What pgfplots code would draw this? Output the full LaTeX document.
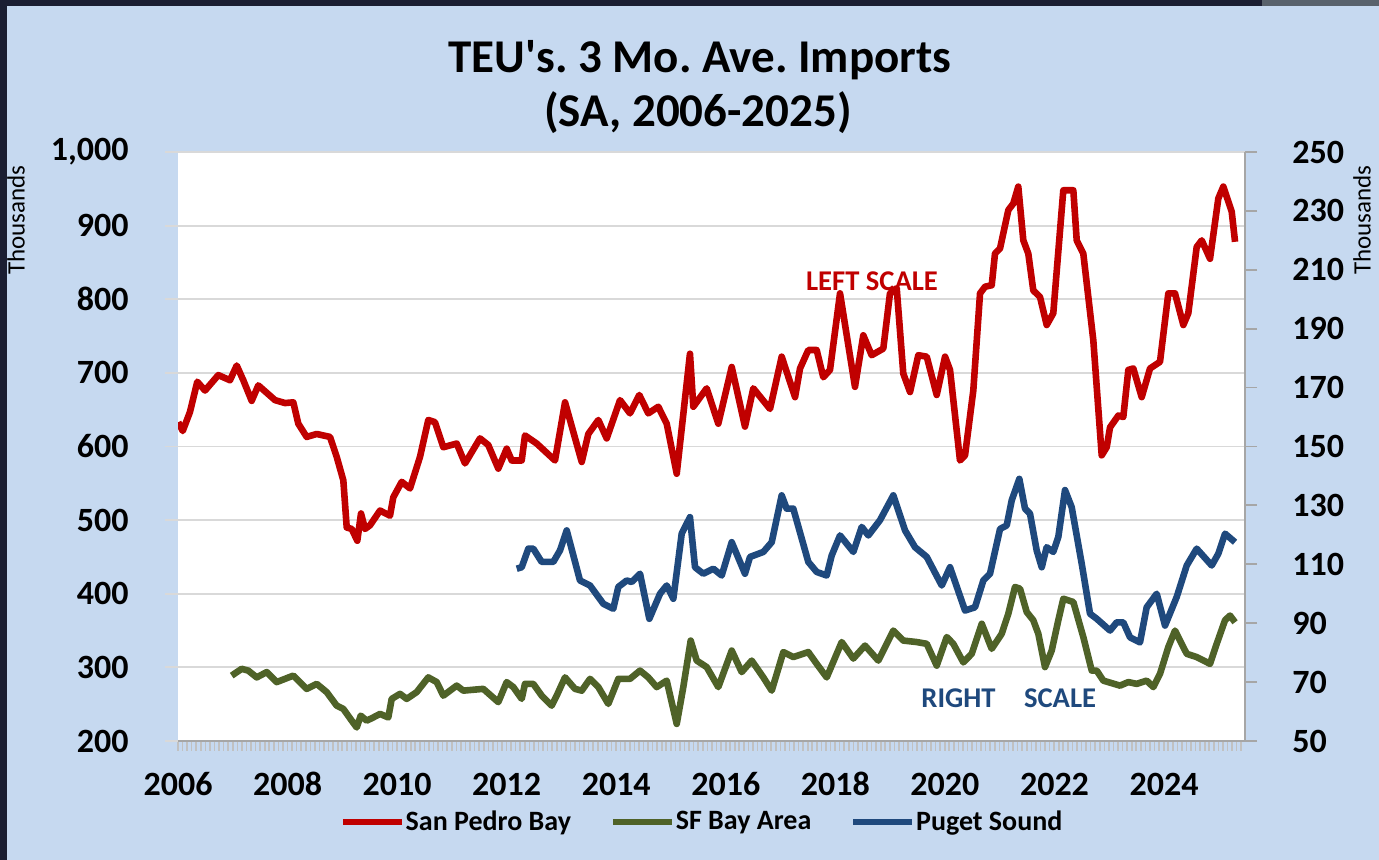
\documentclass[border=0pt]{standalone}
\usepackage{pgfplots}
\pgfplotsset{compat=1.18}
\usepackage{fontspec}
\setmainfont{Carlito}
\frenchspacing
\definecolor{bgblue}{HTML}{C6D9F0}
\definecolor{darkframe}{HTML}{1B1E32}
\definecolor{spred}{HTML}{C00000}
\definecolor{sfgreen}{HTML}{4F6228}
\definecolor{psblue}{HTML}{1F497D}
\definecolor{gridgray}{HTML}{D9D9D9}
\definecolor{axisgray}{HTML}{A6A6A6}
\begin{document}
\begin{tikzpicture}
% background
\fill[darkframe] (0pt,0pt) rectangle (689.5pt,430pt);
\fill[bgblue] (3.5pt,0pt) rectangle (689.5pt,427pt);
\fill[black!55!bgblue] (631pt,427pt) rectangle (689.5pt,430pt);
% title
\node[font=\fontsize{23.5}{28}\selectfont\bfseries] at (350pt,400pt) {TEU\textquotesingle s. 3 Mo. Ave. Imports};
\node[font=\fontsize{23.5}{28}\selectfont\bfseries] at (349pt,373.5pt) {(SA, 2006-2025)};
% Thousands labels
\node[rotate=90, font=\fontsize{12.5}{14}\selectfont] at (8pt,320pt) {Thousands};
\node[rotate=90, font=\fontsize{12.5}{14}\selectfont] at (681pt,320pt) {Thousands};

\begin{axis}[
  at={(89pt,59.5pt)}, anchor=south west,
  scale only axis, width=533.5pt, height=294.5pt,
  xmin=2006, xmax=2025.478, ymin=200, ymax=1000,
  axis background/.style={fill=white},
  axis x line*=bottom, axis y line*=left,
  x axis line style={draw=axisgray, line width=1pt},
  y axis line style={draw=none},
  tick align=outside,
  xtick={2006,2008,...,2024},
  minor xtick={2006,2006.08333,...,2025.45},
  ytick={200,300,...,1000},
  ymajorgrids,
  grid style={draw=gridgray, line width=0.9pt},
  major tick length=6.5pt, minor tick length=5pt,
  xtick style={draw=axisgray!70, line width=0.8pt, /pgfplots/major tick length=5pt},
  minor x tick style={draw=axisgray!70, line width=0.8pt},
  ytick style={draw=gridgray, line width=0.9pt},
  /pgf/number format/assume math mode=true,
  tick label style={font=\fontsize{17}{20}\selectfont\bfseries},
  x tick label style={/pgf/number format/1000 sep={}, anchor=center, yshift=-15pt},
  y tick label style={/pgf/number format/1000 sep={,}, inner sep=0pt, xshift=-18pt},
]
\addplot[color=spred, line width=3.3pt, line join=round] coordinates {
(2006.005,633)(2006.086,621)(2006.219,647)(2006.352,688)(2006.493,676)(2006.736,697)(2006.949,690)(2007.072,710)(2007.192,690)(2007.345,662)(2007.466,683)(2007.771,663)(2007.953,659)(2008.105,660)(2008.196,631)(2008.349,613)(2008.532,617)(2008.775,613)(2008.897,586)(2009.018,554)(2009.080,490)(2009.171,488)(2009.273,472)(2009.341,509)(2009.414,488)(2009.505,493)(2009.688,513)(2009.870,506)(2009.930,531)(2010.084,552)(2010.235,543)(2010.418,586)(2010.569,636)(2010.691,633)(2010.843,599)(2011.088,604)(2011.239,577)(2011.513,611)(2011.664,602)(2011.847,570)(2012.000,597)(2012.092,581)(2012.274,581)(2012.334,615)(2012.548,604)(2012.882,581)(2013.065,660)(2013.370,579)(2013.490,617)(2013.673,636)(2013.826,611)(2014.069,663)(2014.251,645)(2014.421,670)(2014.585,645)(2014.768,654)(2014.921,631)(2015.104,563)(2015.346,726)(2015.407,654)(2015.651,679)(2015.863,631)(2016.108,708)(2016.350,627)(2016.502,679)(2016.807,651)(2017.020,722)(2017.264,667)(2017.355,706)(2017.506,731)(2017.659,731)(2017.780,694)(2017.902,704)(2018.085,808)(2018.358,681)(2018.510,751)(2018.663,724)(2018.875,733)(2018.997,808)(2019.120,815)(2019.240,699)(2019.363,674)(2019.514,724)(2019.668,722)(2019.850,670)(2020.002,722)(2020.093,704)(2020.275,581)(2020.367,588)(2020.518,676)(2020.641,808)(2020.732,817)(2020.854,819)(2020.914,862)(2021.006,869)(2021.157,921)(2021.248,930)(2021.339,953)(2021.431,880)(2021.522,862)(2021.613,812)(2021.736,803)(2021.858,765)(2021.978,781)(2022.161,948)(2022.344,948)(2022.406,880)(2022.526,862)(2022.709,744)(2022.862,588)(2022.953,599)(2023.014,626)(2023.165,642)(2023.256,640)(2023.348,704)(2023.439,706)(2023.592,667)(2023.744,706)(2023.926,715)(2024.078,808)(2024.200,808)(2024.352,765)(2024.443,781)(2024.596,871)(2024.688,880)(2024.839,855)(2024.991,937)(2025.082,953)(2025.235,919)(2025.296,878)
};
\node[text=spred, font=\fontsize{14.3}{16}\selectfont\bfseries] at (axis cs:2018.669,825) {LEFT SCALE};
\end{axis}

\begin{axis}[
  at={(89pt,59.5pt)}, anchor=south west,
  scale only axis, width=533.5pt, height=294.5pt,
  xmin=2006, xmax=2025.478, ymin=50, ymax=250,
  axis x line=none, axis y line*=right,
  y axis line style={draw=axisgray, line width=1pt},
  tick align=outside,
  ytick={50,70,...,250},
  major tick length=6pt,
  ytick style={draw=axisgray, line width=0.9pt},
  /pgf/number format/assume math mode=true,
  tick label style={font=\fontsize{17}{20}\selectfont\bfseries},
  y tick label style={inner sep=0pt, xshift=17.5pt},
  legend columns=3,
  legend style={at={(0.151,-0.1375)}, anchor=west, draw=none, fill=none, inner sep=0pt,
    font=\fontsize{14}{16}\selectfont\bfseries, column sep=0pt,
    nodes={inner sep=0.3pt},
    /tikz/every even column/.append style={column sep=19pt}},
  legend image code/.code={\draw[#1, line width=3.3pt] (0pt,0pt) -- (29.5pt,0pt);},
]
\addlegendimage{color=spred}
\addlegendentry{San Pedro Bay}
\addplot[color=sfgreen, line width=3.3pt, line join=round] coordinates {
(2006.980,72.2)(2007.162,74.5)(2007.283,73.9)(2007.437,71.6)(2007.619,73.4)(2007.802,70)(2008.105,72.2)(2008.349,67.7)(2008.532,69.4)(2008.714,66.6)(2008.897,62)(2009.018,60.9)(2009.171,56.9)(2009.262,54.6)(2009.335,58.6)(2009.445,56.9)(2009.565,58)(2009.688,59.2)(2009.839,58)(2009.901,64.3)(2010.053,66)(2010.175,64.3)(2010.357,66.6)(2010.569,71.6)(2010.723,70)(2010.843,65.4)(2011.088,68.8)(2011.208,67.1)(2011.573,67.7)(2011.847,63.2)(2012.000,70)(2012.121,68.3)(2012.274,64.3)(2012.334,69.4)(2012.486,69.4)(2012.639,65.4)(2012.822,62)(2012.913,65.4)(2013.065,71.6)(2013.247,67.7)(2013.370,67.1)(2013.521,71.1)(2013.673,68.3)(2013.855,62.6)(2014.038,71.1)(2014.251,71.1)(2014.434,73.9)(2014.585,71.6)(2014.739,68.3)(2014.921,70.5)(2015.104,55.8)(2015.224,68.3)(2015.359,84.1)(2015.469,77.3)(2015.651,75.1)(2015.863,68.3)(2016.108,80.7)(2016.290,73.4)(2016.473,77.3)(2016.685,71.6)(2016.838,67.1)(2017.050,80.2)(2017.232,78.5)(2017.506,80.2)(2017.659,76.2)(2017.842,71.6)(2018.116,83.6)(2018.328,78)(2018.541,82.4)(2018.784,77.3)(2019.058,87.5)(2019.240,84.1)(2019.485,83.6)(2019.668,83)(2019.850,75.6)(2020.033,85.3)(2020.153,83)(2020.336,76.7)(2020.489,79.6)(2020.672,89.8)(2020.854,81.3)(2021.036,86.4)(2021.157,93.2)(2021.279,102.3)(2021.371,101.7)(2021.493,93.8)(2021.613,91)(2021.705,86.4)(2021.827,75.1)(2021.949,80.7)(2022.070,91)(2022.161,98.3)(2022.344,97.2)(2022.526,85.3)(2022.680,73.9)(2022.771,73.9)(2022.891,70.5)(2023.196,68.8)(2023.348,70)(2023.501,69.4)(2023.683,70.5)(2023.804,68.3)(2023.926,72.8)(2024.078,81.9)(2024.200,87.5)(2024.414,79.6)(2024.596,78.5)(2024.839,76.2)(2024.961,83)(2025.113,91)(2025.204,92.6)(2025.296,90.3)
};
\addlegendentry{SF Bay Area}
\addplot[color=psblue, line width=3.3pt, line join=round] coordinates {
(2012.183,108.5)(2012.274,109)(2012.395,115.3)(2012.486,115.3)(2012.639,110.8)(2012.851,110.8)(2012.973,114.7)(2013.096,121.5)(2013.338,104.5)(2013.521,102.8)(2013.764,96.6)(2013.946,94.9)(2014.038,102.3)(2014.191,104.5)(2014.282,104)(2014.434,106.8)(2014.604,91.5)(2014.799,100)(2014.921,102.8)(2015.042,98.3)(2015.195,120.4)(2015.346,126)(2015.438,109)(2015.589,106.8)(2015.772,108.5)(2015.925,106.2)(2016.108,117.5)(2016.350,106.8)(2016.442,112.5)(2016.685,114.2)(2016.838,117.5)(2017.020,133.4)(2017.111,128.9)(2017.232,128.9)(2017.506,110.8)(2017.659,107.4)(2017.842,106.2)(2017.933,113)(2018.085,119.8)(2018.207,117)(2018.328,114.2)(2018.481,122.7)(2018.602,119.8)(2018.815,125)(2019.058,133.4)(2019.272,121.5)(2019.454,115.8)(2019.668,112.5)(2019.942,102.8)(2020.093,109)(2020.367,94.3)(2020.549,95.4)(2020.701,104.5)(2020.823,106.8)(2021.006,122)(2021.128,123.2)(2021.219,131.7)(2021.358,139)(2021.462,128.9)(2021.553,127.2)(2021.675,114.7)(2021.767,109)(2021.858,115.8)(2021.978,114.2)(2022.070,119.3)(2022.192,135.2)(2022.314,129.4)(2022.497,110.2)(2022.649,93.2)(2022.771,91.5)(2023.014,87.5)(2023.136,90.3)(2023.256,90.3)(2023.379,85.2)(2023.561,83.5)(2023.683,95.4)(2023.866,100)(2024.018,89.2)(2024.231,98.9)(2024.414,109.6)(2024.596,115.3)(2024.870,109.6)(2024.991,113.6)(2025.113,120.4)(2025.296,117.5)
};
\addlegendentry{Puget Sound}
\node[text=psblue, font=\fontsize{14.3}{16}\selectfont\bfseries] at (axis cs:2020.248,64.4) {RIGHT};
\node[text=psblue, font=\fontsize{14.3}{16}\selectfont\bfseries] at (axis cs:2022.101,64.4) {SCALE};
\end{axis}
\end{tikzpicture}
\end{document}
